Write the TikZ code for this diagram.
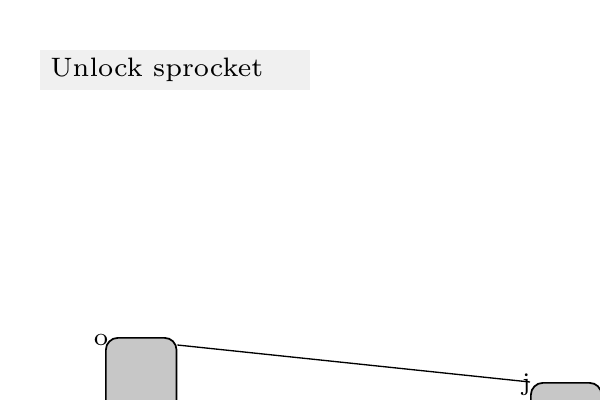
\documentclass[tikz,border=0pt]{standalone}
\usepackage{fontspec}
\usepackage{tikz}
\usetikzlibrary{positioning}
\newfontfamily\sevenfont{lmroman7-regular.otf}
\tikzset{part/.style = {draw, line width = 1.3pt, fill = black!22, rounded corners = 9pt, minimum width = 53pt, minimum height = 60pt, inner sep = 0pt}}

\begin{document}
\begin{tikzpicture}[x = 0.75pt, y = -0.75pt];
				\useasboundingbox (0, 0) rectangle (600, 400);
				\node[fill = black!6, minimum width = 202pt, minimum height = 30pt, anchor = north west, inner sep = 0pt] (title) at (40, 50) {};
				\node[anchor = west, inner sep = 0pt, font = \sevenfont\fontsize{20}{24}\selectfont] at ([xshift = 7.5pt]title.west) {Unlock sprocket};
				\node[part, anchor = north west] (o) at (105, 337) {};
				\node[part, anchor = north west] (j) at (530, 382) {};
				\node[inner sep = 0pt, font = \sevenfont\fontsize{19}{20}\selectfont] at ([xshift = -3pt, yshift = -2pt]o.north west) {o};
				\node[inner sep = 0pt, font = \sevenfont\fontsize{19}{20}\selectfont] at ([xshift = -3pt, yshift = -2.2pt]j.north west) {j};
				\draw[line width = 1pt] ([yshift = -6pt]o.north east) -- (j.north west);
			\end{tikzpicture}
\end{document}
